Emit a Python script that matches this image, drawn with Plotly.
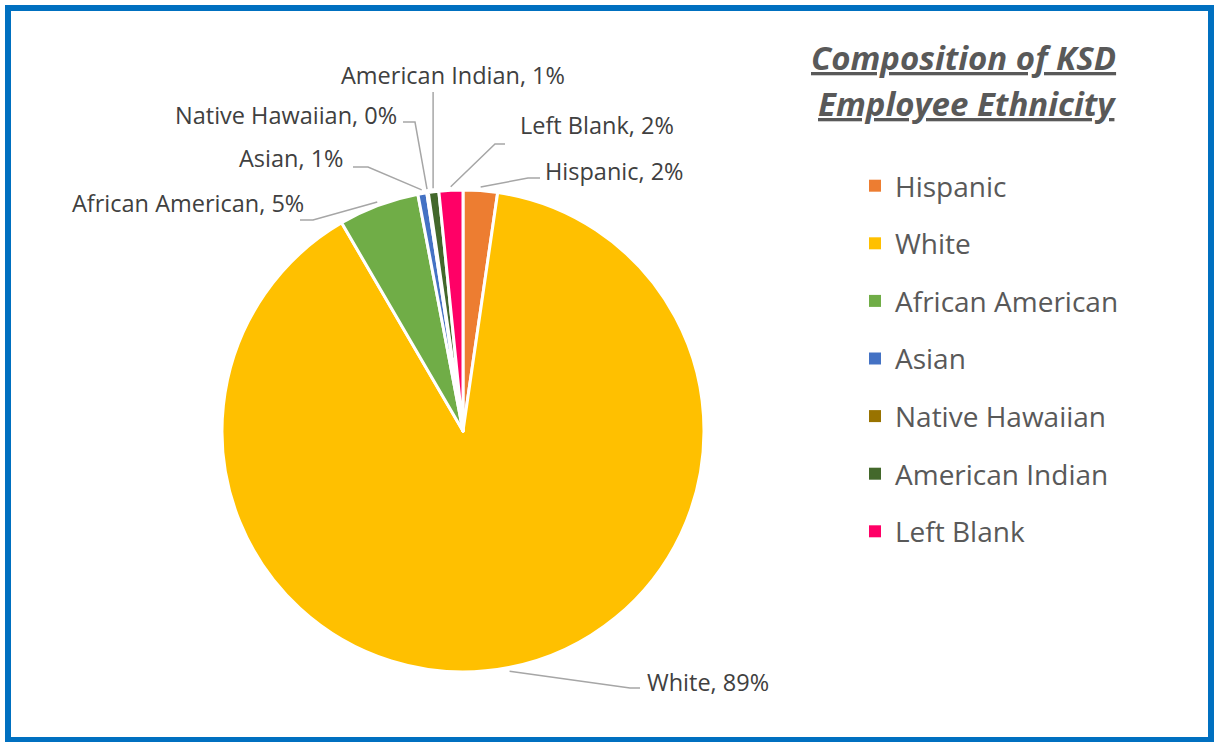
import math
import plotly.graph_objects as go

# Employee ethnicity composition (percent of staff)
categories = ["Hispanic", "White", "African American", "Asian",
              "Native Hawaiian", "American Indian", "Left Blank"]
shares = [2.3, 89.3, 5.4, 0.6, 0.1, 0.7, 1.6]
colors = ["#ED7D31", "#FFC000", "#70AD47", "#4472C4",
          "#997300", "#43682B", "#FF0066"]

W, H = 1215, 742
FONT = "Open Sans"

# Pie placement in pixels
CX, CY, R = 463, 431, 241

# Leader-line routing for each label: elbow point, end point, text anchor
label_route = {
    "Hispanic":         dict(elbow=(528, 178), end=(540, 178), text=(543, 171), anchor="left"),
    "White":            dict(elbow=(630, 688), end=(640, 688), text=(645, 682), anchor="left"),
    "African American": dict(elbow=(313, 220), end=(300, 220), text=(306, 203), anchor="right"),
    "Asian":            dict(elbow=(368, 167), end=(353, 167), text=(346, 158), anchor="right"),
    "Native Hawaiian":  dict(elbow=(415, 122), end=(403, 122), text=(399, 115), anchor="right"),
    "American Indian":  dict(elbow=None, end=(None, 92), text=(453, 75), anchor="center"),
    "Left Blank":       dict(elbow=(495, 144), end=(505, 144), text=(518, 125), anchor="left"),
}

fig = go.Figure()

fig.add_trace(go.Pie(
    labels=categories,
    values=shares,
    sort=False,
    direction="clockwise",
    rotation=0,
    marker=dict(colors=colors, line=dict(color="white", width=3)),
    textinfo="none",
    hoverinfo="skip",
    showlegend=False,
    domain=dict(x=[(CX - R) / W, (CX + R) / W],
                y=[(H - CY - R) / H, (H - CY + R) / H]),
))

total = sum(shares)
cum = 0.0
annotations = []
for name, v in zip(categories, shares):
    mid = 2 * math.pi * (cum + v / 2) / total
    cum += v
    sx = CX + 1.015 * R * math.sin(mid)
    sy = CY - 1.015 * R * math.cos(mid)
    route = label_route[name]
    xs, ys = [sx], [sy]
    if route["elbow"] is not None:
        xs.append(route["elbow"][0]); ys.append(route["elbow"][1])
    ex, ey = route["end"]
    xs.append(sx if ex is None else ex); ys.append(ey)
    fig.add_trace(go.Scatter(
        x=xs, y=ys, mode="lines",
        line=dict(color="#A6A6A6", width=1.5),
        hoverinfo="skip", showlegend=False,
    ))
    pct = round(100 * v / total)
    annotations.append(dict(
        x=route["text"][0], y=route["text"][1], xref="x", yref="y",
        text=f"{name}, {pct}%", showarrow=False,
        xanchor=route["anchor"], yanchor="middle",
        font=dict(family=FONT, size=23.5, color="#404040"),
    ))

# Legend entries, one group per category for even spacing
for name, c in zip(categories, colors):
    fig.add_trace(go.Scatter(
        x=[None], y=[None], mode="markers", name=name,
        legendgroup=name,
        marker=dict(symbol="square", size=12, color=c),
        hoverinfo="skip",
    ))

# Title, two underlined lines
for line, y in (("Composition of KSD", 57), ("Employee Ethnicity", 103)):
    annotations.append(dict(
        x=1118, y=y, xref="x", yref="y",
        text=f"<b><i><u>{line}</u></i></b>", showarrow=False,
        xanchor="right", yanchor="middle",
        font=dict(family=FONT, size=33, color="#595959"),
    ))

fig.update_layout(
    width=W, height=H,
    margin=dict(l=0, r=0, t=0, b=0),
    paper_bgcolor="white",
    plot_bgcolor="rgba(0,0,0,0)",
    xaxis=dict(range=[0, W], visible=False, fixedrange=True),
    yaxis=dict(range=[H, 0], visible=False, fixedrange=True),
    showlegend=True,
    legend=dict(
        x=855 / W, y=(H - 161) / H, xanchor="left", yanchor="top",
        font=dict(family=FONT, size=28, color="#595959"),
        tracegroupgap=18.2, bgcolor="rgba(0,0,0,0)",
    ),
    annotations=annotations,
    shapes=[dict(type="rect", xref="x", yref="y",
                 x0=8, y0=8, x1=1211, y1=740,
                 line=dict(color="#0070C0", width=6))],
)

fig.write_html("out.html")
